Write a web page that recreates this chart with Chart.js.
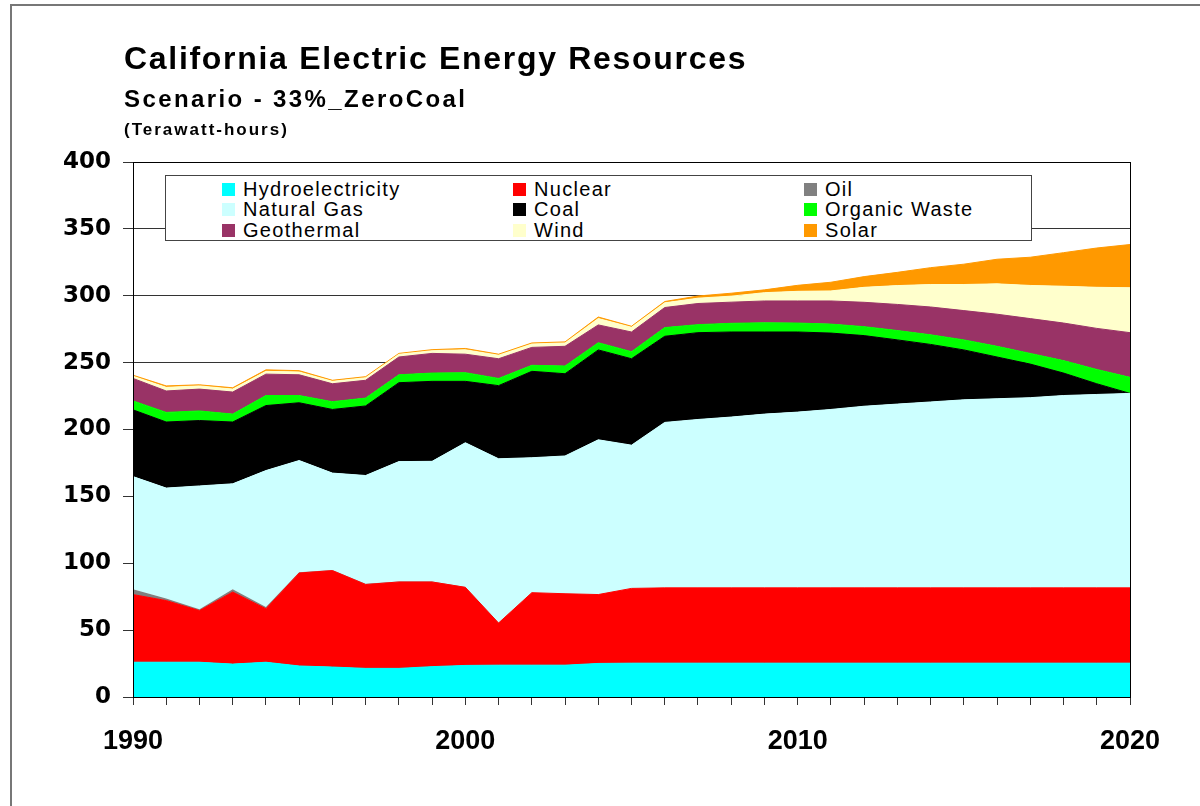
<!DOCTYPE html>
<html>
<head>
<meta charset="utf-8">
<title>California Electric Energy Resources</title>
<script src="https://cdn.jsdelivr.net/npm/chart.js@4.4.1/dist/chart.umd.min.js"></script>
<style>
  body { margin: 0; background: #fff; overflow: hidden; }
  .page { position: relative; width: 1200px; height: 806px; }
  .frame { position: absolute; left: 10px; top: 4px; right: 0; bottom: 0; border-left: 2px solid #777; border-top: 2px solid #777; }
  .title, .subtitle, .units { position: absolute; left: 124px; font-family: "Liberation Sans", Arial, sans-serif; font-weight: bold; color: #000; white-space: nowrap; }
  .title { top: 40px; font-size: 32px; letter-spacing: 1.7px; }
  .subtitle { top: 85px; font-size: 24px; letter-spacing: 2.4px; }
  .units { top: 120px; font-size: 17px; letter-spacing: 2px; }
  .chart-box { position: absolute; left: 0; top: 0; width: 1200px; height: 806px; }
  #legend { position: absolute; left: 165px; top: 175px; width: 867px; height: 66px; background: #fff; border: 1px solid #444;
            display: grid; grid-template-columns: 291px 291px 229px; grid-auto-rows: 20.5px; padding: 3px 0 0 56px; box-sizing: border-box; }
  #legend div { display: flex; align-items: center; font-family: "Liberation Sans", Arial, sans-serif; font-size: 20px; letter-spacing: 1.3px; color: #000; white-space: nowrap; }
  #legend span { display: inline-block; width: 13px; height: 13px; margin-right: 8px; }
</style>
</head>
<body>
<div class="page">
  <div class="frame"></div>
  <div class="chart-box"><canvas id="energyChart"></canvas></div>
  <div class="title">California Electric Energy Resources</div>
  <div class="subtitle">Scenario - 33%_ZeroCoal</div>
  <div class="units">(Terawatt-hours)</div>
  <div id="legend"></div>
</div>
<script>
const years = [1990, 1991, 1992, 1993, 1994, 1995, 1996, 1997, 1998, 1999, 2000, 2001, 2002, 2003, 2004, 2005,
               2006, 2007, 2008, 2009, 2010, 2011, 2012, 2013, 2014, 2015, 2016, 2017, 2018, 2019, 2020];

// Terawatt-hours
const hydro   = [26, 26, 26, 24.6, 26, 23.2, 22.4, 21.4, 21.4, 22.7, 23.6, 23.8, 23.8, 23.8, 25.1, 25.3,
                 25.3, 25.3, 25.3, 25.3, 25.3, 25.3, 25.3, 25.3, 25.3, 25.3, 25.3, 25.3, 25.3, 25.3, 25.3];
const nuclear = [50.6, 46.1, 38.6, 53.9, 40, 69.5, 72.1, 62.7, 64.6, 63.3, 58.4, 31.5, 54.2, 53.4, 51.5, 55.9,
                 56.3, 56.3, 56.3, 56.3, 56.3, 56.3, 56.3, 56.3, 56.3, 56.3, 56.3, 56.3, 56.3, 56.3, 56.3];
const oil     = [4, 1.5, 1, 2, 1.3, 0.5, 0.5, 0.5, 0.3, 0.3, 0.3, 0.3, 0, 0, 0, 0,
                 0, 0, 0, 0, 0, 0, 0, 0, 0, 0, 0, 0, 0, 0, 0];
const gas     = [84.2, 82.6, 92.2, 78.9, 102, 83.6, 72.4, 81, 89.7, 89.9, 107.8, 122.5, 100.9, 103, 115.7, 107.1,
                 123.7, 125.9, 127.7, 129.9, 131.4, 133.4, 135.8, 137.4, 139, 140.6, 141.4, 142.2, 143.8, 144.6, 145.4];
const coal    = [49.9, 49.4, 48.9, 46.2, 48.6, 43.2, 47.6, 52, 59, 59.8, 45.9, 54.7, 64.6, 61.5, 67.2, 64.6,
                 64.4, 64.9, 63.6, 61.4, 59.9, 57.1, 52.8, 48, 43, 37.3, 31.2, 25.1, 16.8, 8, 0];
const organic = [6.7, 7.2, 7.2, 5.9, 7.5, 5.4, 5.8, 5.9, 5.9, 6.2, 6.5, 5.4, 4.5, 5.8, 5.4, 5.3,
                 6.5, 6, 6.5, 6.9, 6.7, 6.7, 6.7, 7, 7.2, 7.5, 8, 8, 9.3, 10.7, 12];
const geo     = [16.8, 16, 16.3, 16.5, 16, 15.5, 13.4, 13.3, 13.3, 14.7, 13.8, 14.7, 13.4, 14.7, 13.3, 14.7,
                 15, 15.8, 15.8, 16.3, 16.5, 17.3, 18.2, 19.5, 20.8, 21.9, 24, 26, 28.1, 30.7, 33.4];
const wind    = [1.6, 2.7, 2.4, 2.2, 2.1, 2.1, 1.8, 1.9, 2, 2, 3.3, 2.6, 2.5, 2.5, 4.8, 3.5,
                 3.5, 4, 4.5, 6.2, 7.2, 7.5, 11.2, 14.1, 16.8, 19.5, 22.7, 24.8, 27.5, 30.7, 33.6];
const solar   = [0.8, 1.1, 0.8, 1, 1.1, 1, 0.8, 0.8, 0.7, 0.8, 1, 0.8, 0.8, 0.8, 1.1, 0.8,
                 1, 1.6, 2.2, 2.1, 4.5, 6.5, 8, 9.9, 12.6, 15.2, 18.4, 21.1, 25.1, 29.4, 32.3];

const seriesNames  = ["Hydroelectricity", "Nuclear", "Oil", "Natural Gas", "Coal", "Organic Waste", "Geothermal", "Wind", "Solar"];
const seriesValues = [hydro, nuclear, oil, gas, coal, organic, geo, wind, solar];
const seriesColors = ["#00FFFF", "#FF0000", "#808080", "#CCFFFF", "#000000", "#00FF00", "#993366", "#FFFFCC", "#FF9900"];

const yTicks = [0, 50, 100, 150, 200, 250, 300, 350, 400];
const xLabelYears = [1990, 2000, 2010, 2020];

const datasets = seriesNames.map((name, i) => ({
  label: name,
  data: years.map((yr, j) => ({ x: yr, y: seriesValues[i][j] })),
  backgroundColor: seriesColors[i],
  borderColor: seriesColors[i],
  borderWidth: name === "Oil" ? 0 : 1,
  fill: i === 0 ? "origin" : "-1",
  pointRadius: 0,
  tension: 0,
}));

// plot frame drawn over the areas
const plotFrame = {
  id: "plotFrame",
  afterDatasetsDraw(chart) {
    const { ctx, chartArea: a } = chart;
    ctx.save();
    ctx.strokeStyle = "#000";
    ctx.lineWidth = 1;
    ctx.strokeRect(Math.round(a.left) + 0.5, Math.round(a.top) + 0.5,
                   Math.round(a.right - a.left), Math.round(a.bottom - a.top));
    ctx.restore();
  },
};

const chart = new Chart(document.getElementById("energyChart").getContext("2d"), {
  type: "line",
  data: { datasets },
  plugins: [plotFrame],
  options: {
    responsive: true,
    maintainAspectRatio: false,
    animation: false,
    layout: { padding: { left: 0, right: 70, top: 162, bottom: 49 } },
    plugins: { legend: { display: false }, tooltip: { enabled: false } },
    scales: {
      x: {
        type: "linear",
        min: years[0],
        max: years[years.length - 1],
        afterFit(scale) { scale.height = 60; },
        ticks: {
          stepSize: 1,
          autoSkip: false,
          maxRotation: 0,
          padding: 20,
          color: "#000",
          font: { family: "Liberation Sans", weight: "bold", size: 27 },
          callback: (v) => (xLabelYears.includes(v) ? String(v) : ""),
        },
        grid: { drawOnChartArea: false, tickLength: 8, color: "#333" },
        border: { color: "#000" },
      },
      y: {
        stacked: true,
        min: yTicks[0],
        max: yTicks[yTicks.length - 1],
        afterFit(scale) { scale.width = 133; },
        afterBuildTicks(scale) { scale.ticks = yTicks.map((v) => ({ value: v })); },
        ticks: {
          padding: 12,
          color: "#000",
          font: { family: "DejaVu Sans", weight: "bold", size: 23 },
        },
        grid: { color: "#333", lineWidth: 1, tickLength: 10 },
        border: { color: "#000" },
      },
    },
  },
});

// legend built from the chart's own datasets
const legendEl = document.getElementById("legend");
chart.data.datasets.forEach((ds) => {
  const item = document.createElement("div");
  const sw = document.createElement("span");
  sw.style.background = ds.backgroundColor;
  item.appendChild(sw);
  item.appendChild(document.createTextNode(ds.label));
  legendEl.appendChild(item);
});
</script>
</body>
</html>
